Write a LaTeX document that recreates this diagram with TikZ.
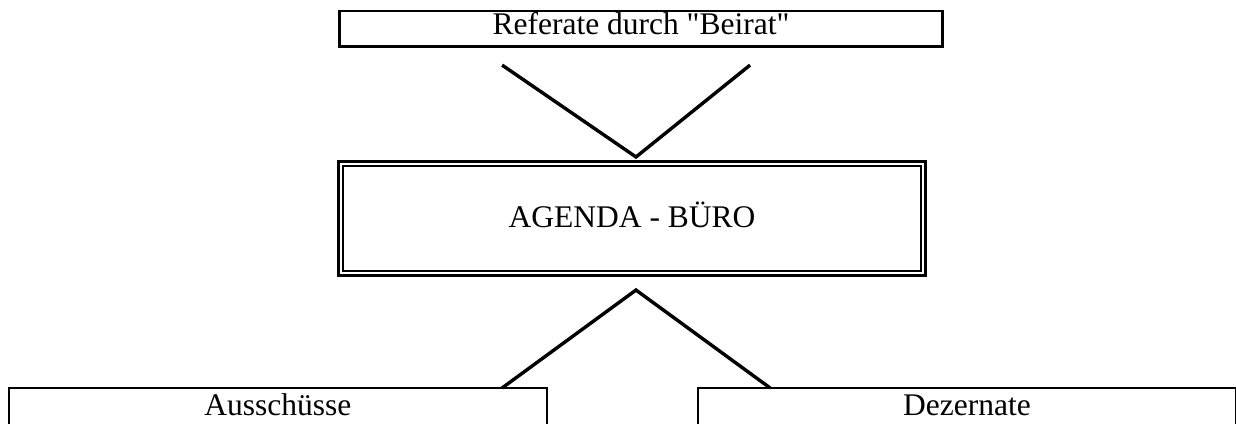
\documentclass[tikz,border=0pt]{standalone}
\usepackage{fontspec}
\setmainfont{Liberation Serif}
\usepackage{tikz}
\usetikzlibrary{positioning,calc}
\tikzset{
	kasten/.style={draw, line width=1pt, inner sep=0pt, outer sep=0pt, font=\fontsize{12}{14}\selectfont, text height=0.662em},
	bereich/.style={draw, line width=0.8pt, anchor=north, inner xsep=0pt, inner ysep=3.8pt, outer sep=0pt, minimum width=205pt, font=\fontsize{12}{14}\selectfont, text height=0.662em, text depth=20pt},
	linie/.style={line width=1.3pt}
}
\newcommand{\bereich}[3]{
	\node[bereich] (#1) at (#2pt,-147.8pt) {#3};
}

\begin{document}
\begin{tikzpicture}
		\path[use as bounding box, clip] (0pt,0pt) rectangle (470.9pt,-161.2pt);
		
		\node[kasten, minimum width=229.7pt, minimum height=13.5pt, text depth=0.2em] (beirat) at (244.2pt,-10.95pt) {Referate durch \textquotedbl Beirat\textquotedbl};
		\node[kasten, minimum width=223.6pt, minimum height=43.4pt, text depth=0pt] (agenda) at (240.8pt,-83.25pt) {AGENDA - BÜRO};
		\draw[line width=0.5pt] ([shift={(1.7pt,-1.7pt)}]agenda.north west) rectangle ([shift={(-1.7pt,1.7pt)}]agenda.south east);
		
		\bereich{ausschuesse}{105.9}{Ausschüsse};
		\bereich{dezernate}{368.4}{Dezernate};
		
		\coordinate (oben_l) at (191.3pt,-24.8pt);
		\coordinate (oben_r) at (285.75pt,-24.8pt);
		\coordinate (spitze_o) at (242.3pt,-59.8pt);
		\coordinate (spitze_u) at (242.3pt,-110.5pt);
		\coordinate (unten_l) at (191.3pt,-147.8pt);
		\coordinate (unten_r) at (293.4pt,-147.8pt);
		
		\draw[linie] (oben_l) -- (spitze_o) -- (oben_r);
		\draw[linie] (unten_l) -- (spitze_u) -- (unten_r);
	\end{tikzpicture}
\end{document}
